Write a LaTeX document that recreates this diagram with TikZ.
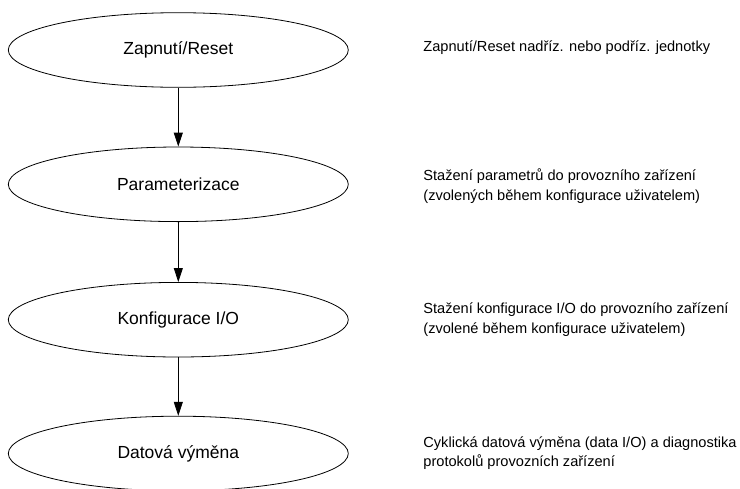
\documentclass[tikz,border=0pt]{standalone}
\usepackage{fontspec}
\setmainfont{Liberation Sans}
\usetikzlibrary{arrows.meta}
\usetikzlibrary{shapes.geometric}

\begin{document}
\begin{tikzpicture}[
    x=1pt, y=-1pt,
    >={Triangle[length=14pt,width=9pt]},
    phase/.style={ellipse, draw, minimum width=340pt, minimum height=74.6pt,
                  inner sep=0pt, font=\fontsize{17.5}{21}\selectfont},
    note/.style={anchor=west, align=left, inner sep=0pt,
                 font=\fontsize{14.6}{19.5}\selectfont},
    line width=0.8pt
]

\def\cx{178.3}
\def\tx{423}

\useasboundingbox (0,0) rectangle (740,488);

% Phases
\node[phase] (power)  at (\cx,50)    {Zapnutí/Reset};
\node[phase] (param)  at (\cx,184.3) {Parameterizace};
\node[phase] (config) at (\cx,319.7) {Konfigurace I/O};
\node[phase] (data)   at (\cx,453.5) {Datová výměna};

\draw[->] (power) -- (param);
\draw[->] (param) -- (config);
\draw[->] (config) -- (data);

% Notes
\node[note] (powernote)  at (\tx,48)    {Zapnutí/Reset nadříz. nebo podříz. jednotky};
\node[note] (paramnote)  at (\tx,186)   {Stažení parametrů do provozního zařízení\\(zvolených během konfigurace uživatelem)};
\node[note] (confignote) at (\tx,319.5) {Stažení konfigurace I/O do provozního zařízení\\(zvolené během konfigurace uživatelem)};
\node[note] (datanote)   at (\tx,453)   {Cyklická datová výměna (data I/O) a diagnostika\\protokolů provozních zařízení};

\end{tikzpicture}
\end{document}
